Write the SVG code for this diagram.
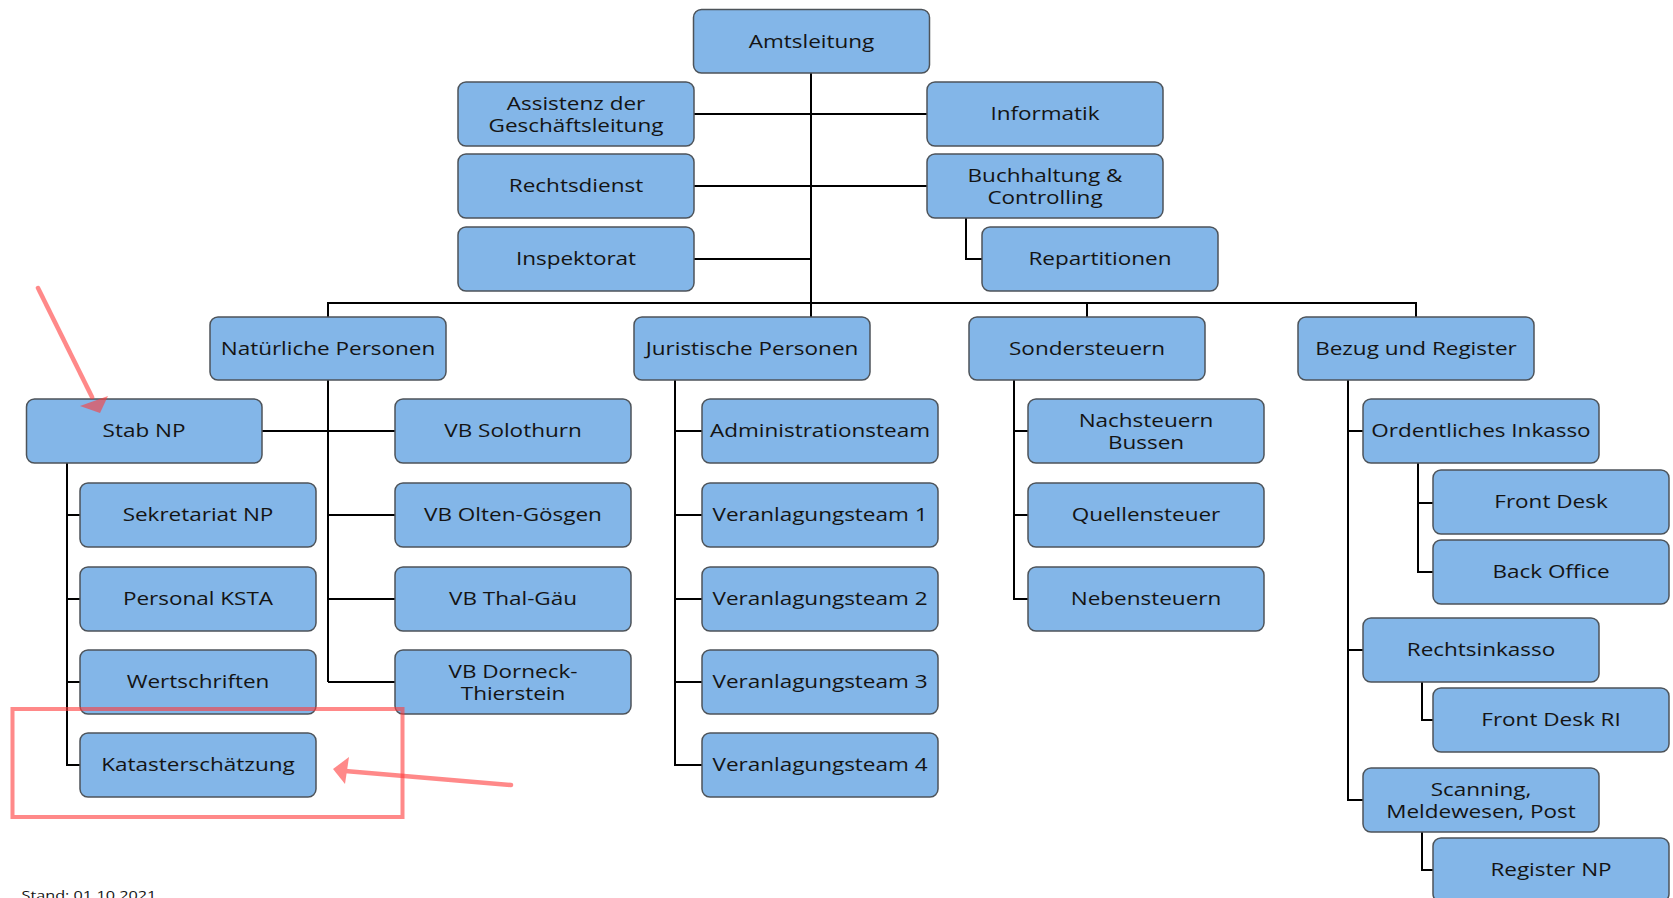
<svg xmlns="http://www.w3.org/2000/svg" width="1673" height="898" viewBox="0 0 1673 898">
<style>
.box{fill:#83b6e8;stroke:#4d5359;stroke-width:1.5}
.t{font-family:"Open Sans","Noto Sans",sans-serif;font-size:18px;fill:#141414;text-anchor:middle}
.c{fill:none;stroke:#000;stroke-width:2}
.an{fill:none;stroke:#ff3b3b;stroke-width:4.5;stroke-linecap:round}
.ah{fill:#ff3b3b;stroke:none}
</style>
<rect width="1673" height="898" fill="#fff"/>
<g id="connectors">
<path class="c" d="M811 73V317M694 114H927M694 186H927M694 259H811M966 218V259H982"/>
<path class="c" d="M328 317V303H1416V317M1087 303V317"/>
<path class="c" d="M328 380V682M262 431H395M328 515H395M328 599H395M328 682H395"/>
<path class="c" d="M67 463V765H80M67 515H80M67 599H80M67 682H80"/>
<path class="c" d="M675 380V765H702M675 431H702M675 515H702M675 599H702M675 682H702"/>
<path class="c" d="M1014 380V599H1028M1014 431H1028M1014 515H1028"/>
<path class="c" d="M1348 380V800H1363M1348 431H1363M1348 650H1363"/>
<path class="c" d="M1418 463V572H1433M1418 503H1433M1422 682V720H1433M1422 832V870H1433"/>
</g>
<g id="n-amtsleitung"><rect class="box" x="693.5" y="9.5" width="236" height="63.5" rx="8"/><text class="t" transform="translate(811.5,47.5) scale(1.25,1)">Amtsleitung</text></g>
<g id="n-assistenz"><rect class="box" x="458" y="82" width="236" height="64" rx="8"/><text class="t" transform="translate(576,109.5) scale(1.25,1)">Assistenz der</text><text class="t" transform="translate(576,131.5) scale(1.25,1)">Geschäftsleitung</text></g>
<g id="n-rechtsdienst"><rect class="box" x="458" y="154" width="236" height="64" rx="8"/><text class="t" transform="translate(576,192) scale(1.25,1)">Rechtsdienst</text></g>
<g id="n-inspektorat"><rect class="box" x="458" y="227" width="236" height="64" rx="8"/><text class="t" transform="translate(576,265) scale(1.25,1)">Inspektorat</text></g>
<g id="n-informatik"><rect class="box" x="927" y="82" width="236" height="64" rx="8"/><text class="t" transform="translate(1045,120) scale(1.25,1)">Informatik</text></g>
<g id="n-buchhaltung"><rect class="box" x="927" y="154" width="236" height="64" rx="8"/><text class="t" transform="translate(1045,181.5) scale(1.25,1)">Buchhaltung &amp;</text><text class="t" transform="translate(1045,203.5) scale(1.25,1)">Controlling</text></g>
<g id="n-repartitionen"><rect class="box" x="982" y="227" width="236" height="64" rx="8"/><text class="t" transform="translate(1100,265) scale(1.25,1)">Repartitionen</text></g>
<g id="n-natuerliche"><rect class="box" x="210" y="317" width="236" height="63" rx="8"/><text class="t" transform="translate(328,354.5) scale(1.25,1)">Natürliche Personen</text></g>
<g id="n-juristische"><rect class="box" x="634" y="317" width="236" height="63" rx="8"/><text class="t" transform="translate(752,354.5) scale(1.25,1)">Juristische Personen</text></g>
<g id="n-sondersteuern"><rect class="box" x="969" y="317" width="236" height="63" rx="8"/><text class="t" transform="translate(1087,354.5) scale(1.25,1)">Sondersteuern</text></g>
<g id="n-bezug"><rect class="box" x="1298" y="317" width="236" height="63" rx="8"/><text class="t" transform="translate(1416,354.5) scale(1.25,1)">Bezug und Register</text></g>
<g id="n-stabnp"><rect class="box" x="26.5" y="399" width="235.5" height="64" rx="8"/><text class="t" transform="translate(144,437) scale(1.25,1)">Stab NP</text></g>
<g id="n-sekretariat"><rect class="box" x="80" y="483" width="236" height="64" rx="8"/><text class="t" transform="translate(198,521) scale(1.25,1)">Sekretariat NP</text></g>
<g id="n-personal"><rect class="box" x="80" y="567" width="236" height="64" rx="8"/><text class="t" transform="translate(198,605) scale(1.25,1)">Personal KSTA</text></g>
<g id="n-wertschriften"><rect class="box" x="80" y="650" width="236" height="64" rx="8"/><text class="t" transform="translate(198,688) scale(1.25,1)">Wertschriften</text></g>
<g id="n-kataster"><rect class="box" x="80" y="733" width="236" height="64" rx="8"/><text class="t" transform="translate(198,771) scale(1.25,1)">Katasterschätzung</text></g>
<g id="n-vbsolothurn"><rect class="box" x="395" y="399" width="236" height="64" rx="8"/><text class="t" transform="translate(513,437) scale(1.25,1)">VB Solothurn</text></g>
<g id="n-vbolten"><rect class="box" x="395" y="483" width="236" height="64" rx="8"/><text class="t" transform="translate(513,521) scale(1.25,1)">VB Olten-Gösgen</text></g>
<g id="n-vbthal"><rect class="box" x="395" y="567" width="236" height="64" rx="8"/><text class="t" transform="translate(513,605) scale(1.25,1)">VB Thal-Gäu</text></g>
<g id="n-vbdorneck"><rect class="box" x="395" y="650" width="236" height="64" rx="8"/><text class="t" transform="translate(513,677.5) scale(1.25,1)">VB Dorneck-</text><text class="t" transform="translate(513,699.5) scale(1.25,1)">Thierstein</text></g>
<g id="n-admin"><rect class="box" x="702" y="399" width="236" height="64" rx="8"/><text class="t" transform="translate(820,437) scale(1.25,1)">Administrationsteam</text></g>
<g id="n-vt1"><rect class="box" x="702" y="483" width="236" height="64" rx="8"/><text class="t" transform="translate(820,521) scale(1.25,1)">Veranlagungsteam 1</text></g>
<g id="n-vt2"><rect class="box" x="702" y="567" width="236" height="64" rx="8"/><text class="t" transform="translate(820,605) scale(1.25,1)">Veranlagungsteam 2</text></g>
<g id="n-vt3"><rect class="box" x="702" y="650" width="236" height="64" rx="8"/><text class="t" transform="translate(820,688) scale(1.25,1)">Veranlagungsteam 3</text></g>
<g id="n-vt4"><rect class="box" x="702" y="733" width="236" height="64" rx="8"/><text class="t" transform="translate(820,771) scale(1.25,1)">Veranlagungsteam 4</text></g>
<g id="n-nachsteuern"><rect class="box" x="1028" y="399" width="236" height="64" rx="8"/><text class="t" transform="translate(1146,426.5) scale(1.25,1)">Nachsteuern</text><text class="t" transform="translate(1146,448.5) scale(1.25,1)">Bussen</text></g>
<g id="n-quellensteuer"><rect class="box" x="1028" y="483" width="236" height="64" rx="8"/><text class="t" transform="translate(1146,521) scale(1.25,1)">Quellensteuer</text></g>
<g id="n-nebensteuern"><rect class="box" x="1028" y="567" width="236" height="64" rx="8"/><text class="t" transform="translate(1146,605) scale(1.25,1)">Nebensteuern</text></g>
<g id="n-ordentliches"><rect class="box" x="1363" y="399" width="236" height="64" rx="8"/><text class="t" transform="translate(1481,437) scale(1.25,1)">Ordentliches Inkasso</text></g>
<g id="n-frontdesk"><rect class="box" x="1433" y="470" width="236" height="64" rx="8"/><text class="t" transform="translate(1551,508) scale(1.25,1)">Front Desk</text></g>
<g id="n-backoffice"><rect class="box" x="1433" y="540" width="236" height="64" rx="8"/><text class="t" transform="translate(1551,578) scale(1.25,1)">Back Office</text></g>
<g id="n-rechtsinkasso"><rect class="box" x="1363" y="618" width="236" height="64" rx="8"/><text class="t" transform="translate(1481,656) scale(1.25,1)">Rechtsinkasso</text></g>
<g id="n-frontdeskri"><rect class="box" x="1433" y="688" width="236" height="64" rx="8"/><text class="t" transform="translate(1551,726) scale(1.25,1)">Front Desk RI</text></g>
<g id="n-scanning"><rect class="box" x="1363" y="768" width="236" height="64" rx="8"/><text class="t" transform="translate(1481,795.5) scale(1.25,1)">Scanning,</text><text class="t" transform="translate(1481,817.5) scale(1.25,1)">Meldewesen, Post</text></g>
<g id="n-registernp"><rect class="box" x="1433" y="838" width="236" height="64" rx="8"/><text class="t" transform="translate(1551,876) scale(1.25,1)">Register NP</text></g>
<text transform="translate(21.5,900) scale(1.25,1)" style="font-family:'Open Sans','Noto Sans',sans-serif;font-size:13px;fill:#141414">Stand: 01.10.2021</text>
<g id="annotations">
<g opacity="0.6"><path class="an" d="M38 288L92 397"/><path class="ah" d="M100 413L80 406L108 396Z"/></g>
<rect x="12.5" y="709" width="390" height="108" fill="none" stroke="#ff3b3b" stroke-width="4" opacity="0.6"/>
<g opacity="0.6"><path class="an" d="M511 785L345 771"/><path class="ah" d="M333 769L349 757L345 784Z"/></g>
</g>
</svg>
